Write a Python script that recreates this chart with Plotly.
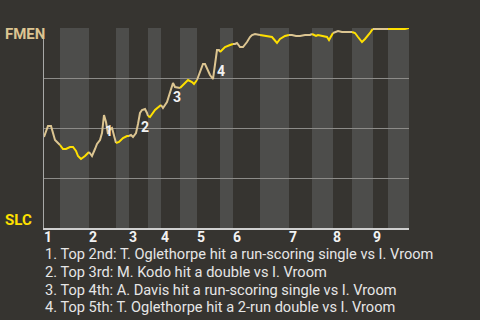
import plotly.graph_objects as go

# Game progress (0..365 units across the game) and FMEN win probability (%)
progress = [0, 2, 4, 7, 9, 11, 14, 16,
            19, 22, 26, 29, 32, 34, 37, 41, 45,
            48, 51, 53, 56, 58, 60, 62, 64, 66, 68, 70, 72,
            75, 79, 83, 85,
            87, 89, 92, 94, 96, 98, 101, 103, 104,
            106, 111, 115, 117,
            119, 123, 126, 129, 131, 134, 136,
            139, 144, 148, 150, 153,
            156, 159, 161, 164, 166, 169, 171, 173, 175, 176,
            181, 186, 189,
            191, 193, 196, 199, 203, 206, 208, 211, 216,
            221, 228, 233, 236, 241, 245,
            248, 252, 256, 261, 266, 268,
            272, 274, 279, 283, 285, 288, 289,
            291, 294, 298, 308,
            311, 314, 316, 318, 321, 323, 326, 328, 329,
            336, 344,
            348, 356, 361, 365]
fmen_wp = [45.5, 48, 51, 51, 47.5, 44, 42.5, 41.5,
           39.5, 39.5, 40.5, 40.5, 38.5, 36, 34.5, 36, 38,
           36, 39.5, 42, 44, 47.5, 56.5, 53, 47, 49.5, 50, 46.5, 42.5,
           43, 45, 46, 46,
           46.5, 45.5, 47.5, 52, 57.5, 59, 59.5, 57.5, 56,
           55.5, 59, 61, 61.5,
           60, 63, 68, 72.5, 70.5, 70, 70,
           71.5, 74, 73, 72, 74,
           78, 82, 82, 78.5, 76.5, 74.5, 81, 89, 89, 88,
           90.5, 91.5, 92,
           92, 92.5, 90.5, 90.5, 93, 95.5, 96.5, 97, 96.5,
           96, 95.5, 92.5, 94.5, 96, 96.5,
           96.5, 96, 96, 96.5, 96.5, 97,
           96, 96.5, 96, 95.5, 94, 96.5, 97.5,
           98, 98.5, 98, 98,
           97.5, 95.5, 94, 93, 94.5, 95.5, 97.5, 99, 99.5,
           99.5, 99.5,
           99.5, 99.5, 99.5, 100]

# Half-inning boundaries (top1, bottom1, top2, ...)
half_bounds = [0, 16, 45, 72, 85, 104, 117, 136, 153, 176, 189, 216,
               245, 268, 289, 308, 329, 344, 365]
inning_labels = ["1", "2", "3", "4", "5", "6", "7", "8", "9"]

event_labels = ["1", "2", "3", "4"]
event_x = [65, 101, 133, 177]
event_wp = [48.5, 50.5, 65.5, 78.5]

notes = [
    "1. Top 2nd: T. Oglethorpe hit a run-scoring single vs I. Vroom",
    "2. Top 3rd: M. Kodo hit a double vs I. Vroom",
    "3. Top 4th: A. Davis hit a run-scoring single vs I. Vroom",
    "4. Top 5th: T. Oglethorpe hit a 2-run double vs I. Vroom",
]

BG = "#363430"
BAND = "#4d4d4b"
TAN = "#dcc591"
YELLOW = "#ffe000"
GRID = "#8c8b88"

fig = go.Figure()

shapes = []
for i in range(len(half_bounds) - 1):
    if i % 2 == 1:
        shapes.append(dict(type="rect", xref="x", yref="paper",
                           x0=half_bounds[i], x1=half_bounds[i + 1], y0=0, y1=1,
                           fillcolor=BAND, line=dict(width=0), layer="below"))

# line segments coloured by half inning
for i in range(len(half_bounds) - 1):
    lo, hi = half_bounds[i], half_bounds[i + 1]
    xs, ys = [], []
    for j, x in enumerate(progress):
        if lo < x <= hi or (i == 0 and x == lo):
            if not xs and j > 0 and i > 0:
                xs.append(progress[j - 1]); ys.append(fmen_wp[j - 1])
            xs.append(x); ys.append(fmen_wp[j])
    color = TAN if i % 2 == 0 else YELLOW
    fig.add_trace(go.Scatter(x=xs, y=ys, mode="lines",
                             line=dict(color=color, width=2),
                             hoverinfo="skip", showlegend=False))

annotations = []
for lab, ex, ey in zip(event_labels, event_x, event_wp):
    annotations.append(dict(x=ex, y=ey, xref="x", yref="y", text=f"<b>{lab}</b>",
                            showarrow=False, font=dict(color="#f2f2f2", size=14,
                                                       family="Roboto")))
annotations.append(dict(x=0, xshift=-41, y=(228 - 34) / 200, xref="paper", yref="paper",
                        xanchor="left", yanchor="middle", text="<b>FMEN</b>",
                        showarrow=False, font=dict(color=TAN, size=15, family="Roboto")))
annotations.append(dict(x=0, xshift=-41, y=(228 - 220) / 200, xref="paper", yref="paper",
                        xanchor="left", yanchor="middle", text="<b>SLC</b>",
                        showarrow=False, font=dict(color=YELLOW, size=15, family="Roboto")))
for k, t in enumerate(notes):
    annotations.append(dict(x=0, xshift=-1, y=(228 - (254 + 17.8 * k)) / 200,
                            xref="paper", yref="paper", xanchor="left", yanchor="middle",
                            text=t, showarrow=False,
                            font=dict(color="#e6e6e6", size=14.6, family="Roboto")))

tickvals = [half_bounds[2 * k] + 4 for k in range(9)]

fig.update_layout(
    width=480, height=320,
    margin=dict(l=44, r=71, t=28, b=92),
    paper_bgcolor=BG, plot_bgcolor=BG,
    shapes=shapes, annotations=annotations,
    xaxis=dict(range=[0, 365], showgrid=False, zeroline=False,
               tickvals=tickvals, ticktext=[f"<b>{t}</b>" for t in inning_labels],
               tickfont=dict(color="#f2f2f2", size=14, family="Roboto"),
               ticks="", ticklabelstandoff=-5,
               showline=True, linecolor="#cfcfcf", linewidth=2),
    yaxis=dict(range=[0, 100], tickvals=[25, 50, 75, 100], showticklabels=False,
               showgrid=True, gridcolor=GRID, gridwidth=1, zeroline=False,
               showline=True, linecolor="#a8a8a6", linewidth=1, ticks=""),
)

fig.write_html("out.html")
